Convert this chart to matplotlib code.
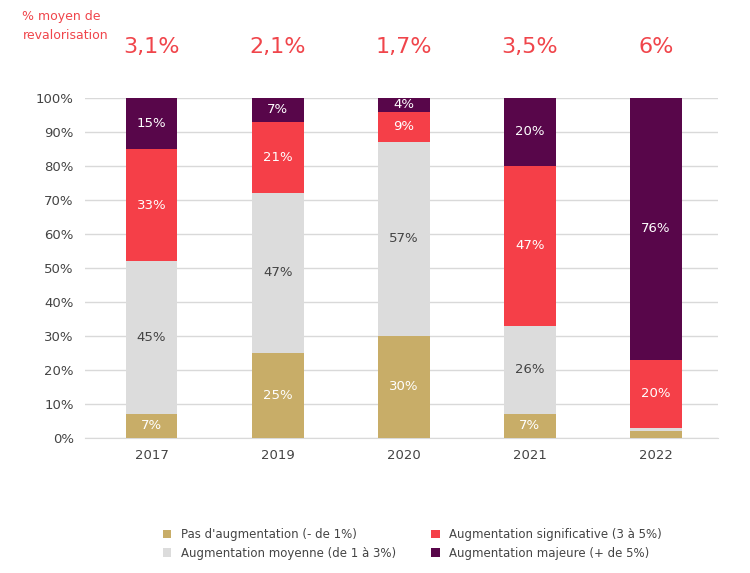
import matplotlib.pyplot as plt
import numpy as np

years = ['2017', '2019', '2020', '2021', '2022']
moyen = ['3,1%', '2,1%', '1,7%', '3,5%', '6%']
pas_aug = [7, 25, 30, 7, 2]
aug_moy = [45, 47, 57, 26, 1]
aug_sig = [33, 21, 9, 47, 20]
aug_maj = [15, 7, 4, 20, 77]
maj_labels = ['15%', '7%', '4%', '20%', '76%']

series = [
    ("Pas d'augmentation (- de 1%)", pas_aug, '#C8AD68', None),
    ("Augmentation moyenne (de 1 à 3%)", aug_moy, '#DCDCDC', None),
    ("Augmentation significative (3 à 5%)", aug_sig, '#F53F48', None),
    ("Augmentation majeure (+ de 5%)", aug_maj, '#58064A', maj_labels),
]
txt_col = ['#FFFFFF', '#444444', '#FFFFFF', '#FFFFFF']

fig = plt.figure(figsize=(7.5, 5.73), dpi=100)
ax = fig.add_axes([0.113, 0.236, 0.844, 0.593])
x = np.arange(len(years))
bottom = np.zeros(len(years))
for (name, vals, col, labs), tc in zip(series, txt_col):
    vals = np.array(vals, dtype=float)
    ax.bar(x, vals, 0.41, bottom=bottom, color=col, label=name, zorder=3)
    for i, v in enumerate(vals):
        if v >= 4:
            lab = labs[i] if labs else f'{int(v)}%'
            ax.text(x[i], bottom[i] + v / 2, lab, ha='center', va='center',
                    color=tc, fontsize=9.5, zorder=4)
    bottom += vals

ax.set_xlim(-0.53, 4.49)
ax.set_ylim(0, 100)
ax.set_yticks(range(0, 101, 10))
ax.set_yticklabels([f'{t}%' for t in range(0, 101, 10)], fontsize=9.5, color='#444444')
ax.set_xticks(x)
ax.set_xticklabels(years, fontsize=9.5, color='#444444')
ax.yaxis.grid(True, color='#D9D9D9', lw=1, zorder=0)
for s in ax.spines.values():
    s.set_visible(False)
ax.spines['bottom'].set_visible(True)
ax.spines['bottom'].set_color('#D9D9D9')
ax.tick_params(length=0, pad=8)

for i, m in enumerate(moyen):
    ax.text(x[i], 1.15, m, transform=ax.get_xaxis_transform(), ha='center',
            va='center', color='#F0454B', fontsize=16)
fig.text(0.03, 0.955, '% moyen de\nrevalorisation', color='#F0454B', fontsize=9,
         va='center', ha='left', linespacing=1.6)

fig.legend(loc='lower center', bbox_to_anchor=(0.55, 0.015), ncol=2, frameon=False,
           fontsize=8.5, handlelength=0.7, handleheight=0.7, columnspacing=3,
           labelcolor='#444444', borderaxespad=0)
fig.savefig('out.png')
